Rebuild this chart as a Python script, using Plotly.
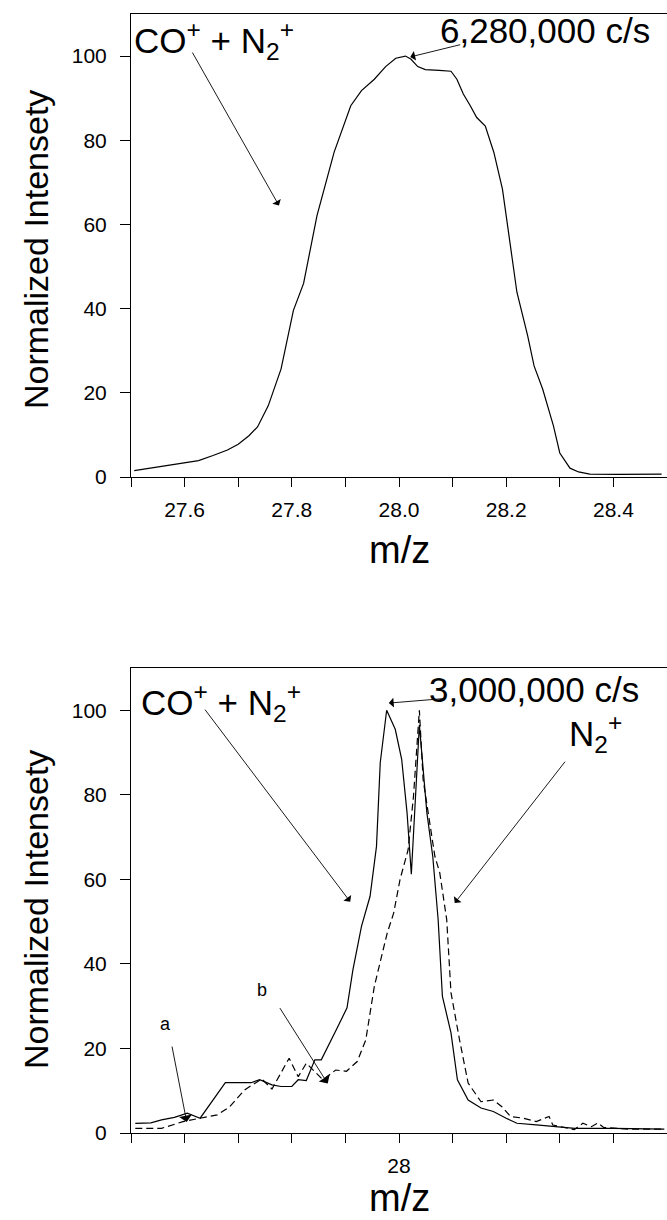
import plotly.graph_objects as go

# ---------------- data ----------------
top_mz = [27.506, 27.55, 27.581, 27.626, 27.653, 27.68, 27.70, 27.72, 27.736, 27.756,
          27.78, 27.803, 27.822, 27.847, 27.879, 27.910, 27.930, 27.954, 27.975, 27.994,
          28.012, 28.022, 28.035, 28.049, 28.075, 28.097, 28.108, 28.120, 28.133, 28.145,
          28.161, 28.177, 28.193, 28.204, 28.220, 28.240, 28.252, 28.268, 28.288, 28.300,
          28.319, 28.335, 28.356, 28.41, 28.45, 28.49]
top_int = [1.5, 2.4, 3.1, 3.9, 5.1, 6.4, 7.8, 9.8, 11.9, 16.9,
           25.7, 39.6, 46.0, 62.1, 77.2, 88.2, 91.8, 94.5, 97.5, 99.5,
           100.0, 99.3, 97.5, 96.8, 96.6, 96.4, 94.5, 91.0, 88.2, 85.4,
           83.4, 77.1, 68.4, 58.2, 43.9, 33.6, 26.4, 20.9, 12.2, 5.7,
           2.1, 1.2, 0.7, 0.6, 0.6, 0.7]

bot_mz_solid = [27.508, 27.537, 27.557, 27.581, 27.605, 27.621, 27.629, 27.676, 27.724, 27.740,
                27.763, 27.780, 27.800, 27.812, 27.827, 27.843, 27.855, 27.883, 27.903, 27.914,
                27.930, 27.946, 27.958, 27.965, 27.977, 27.993, 28.005, 28.015, 28.021, 28.023,
                28.038, 28.052, 28.063, 28.073, 28.081, 28.097, 28.109, 28.129, 28.153, 28.176,
                28.200, 28.220, 28.256, 28.288, 28.328, 28.400, 28.495]
bot_int_solid = [2.3, 2.4, 3.1, 3.7, 4.7, 4.0, 3.5, 11.9, 11.9, 12.6,
                 11.4, 11.0, 11.0, 12.6, 12.4, 17.3, 17.3, 24.4, 29.6, 38.6,
                 48.9, 56.0, 67.8, 87.6, 100.0, 95.5, 88.4, 75.8, 66.4, 61.2,
                 96.5, 75.8, 65.4, 50.5, 32.3, 23.7, 12.6, 7.8, 5.9, 5.1,
                 3.5, 2.3, 1.9, 1.5, 1.1, 1.1, 0.9]

bot_mz_dash = [27.508, 27.557, 27.597, 27.629, 27.661, 27.684, 27.712, 27.744, 27.763, 27.795,
               27.812, 27.827, 27.858, 27.882, 27.902, 27.922, 27.938, 27.954, 27.978, 27.990,
               28.002, 28.017, 28.027, 28.038, 28.045, 28.067, 28.076, 28.089, 28.097, 28.113,
               28.129, 28.153, 28.176, 28.192, 28.208, 28.232, 28.256, 28.280, 28.287, 28.327,
               28.343, 28.359, 28.371, 28.382, 28.431, 28.494]
bot_int_dash = [1.1, 1.1, 2.7, 3.5, 4.3, 6.2, 10.2, 12.8, 10.4, 17.7,
                13.3, 16.5, 12.6, 14.9, 14.6, 16.9, 22.0, 34.7, 47.3, 52.0,
                60.0, 67.0, 79.6, 100.0, 83.6, 65.4, 61.6, 50.5, 33.2, 22.0,
                11.8, 7.4, 7.8, 6.2, 3.9, 3.5, 2.7, 3.9, 1.9, 0.8,
                2.3, 1.5, 2.4, 1.3, 0.9, 0.9]

top_xticks = [27.6, 27.8, 28.0, 28.2, 28.4]
top_xticktext = ["27.6", "27.8", "28.0", "28.2", "28.4"]
bot_xticks = [28.0]
bot_xticktext = ["28"]
y_ticks = [0, 20, 40, 60, 80, 100]

x_label = "m/z"
y_label = "Normalized Intensety"
label_co = "CO<sup>+</sup> + N<sub>2</sub><sup>+</sup>"
label_n2 = "N<sub>2</sub><sup>+</sup>"
label_top_counts = "6,280,000 c/s"
label_bot_counts = "3,000,000 c/s"

# ---------------- figure ----------------
FONT = "Liberation Sans, Arial, sans-serif"
W, H = 667, 1220
L, R, T, B = 131, 0, 14, 87
plot_h = H - T - B

def py2paper(py):
    return (H - B - py) / plot_h

def px2paper(px):
    return (px - L) / (W - L - R)

fig = go.Figure()
fig.add_trace(go.Scatter(x=top_mz, y=top_int, mode="lines",
                         line=dict(color="black", width=1.2), xaxis="x", yaxis="y",
                         showlegend=False))
fig.add_trace(go.Scatter(x=bot_mz_solid, y=bot_int_solid, mode="lines",
                         line=dict(color="black", width=1.2), xaxis="x2", yaxis="y2",
                         showlegend=False))
fig.add_trace(go.Scatter(x=bot_mz_dash, y=bot_int_dash, mode="lines",
                         line=dict(color="black", width=1.2, dash="7px,4px"),
                         xaxis="x2", yaxis="y2", showlegend=False))

axis_common = dict(showline=True, linecolor="black", linewidth=1, mirror=True,
                   showgrid=False, zeroline=False, ticks="outside", tickcolor="black",
                   tickwidth=1, tickfont=dict(family=FONT, size=21, color="black"))
minor_x = dict(ticks="outside", dtick=0.1, tick0=27.5, ticklen=9, tickcolor="black",
               showgrid=False)

top_dom = [py2paper(477), 1.0]
bot_dom = [0.0, py2paper(668)]

fig.update_layout(
    width=W, height=H,
    margin=dict(l=L, r=R, t=T, b=B),
    paper_bgcolor="white", plot_bgcolor="white",
    xaxis=dict(domain=[0, 1], anchor="y", range=[27.5, 28.5],
               tickvals=top_xticks, ticktext=top_xticktext, ticklen=9,
               ticklabelstandoff=5, minor=minor_x, **axis_common),
    yaxis=dict(domain=top_dom, anchor="x", range=[0, 110], tickvals=y_ticks,
               ticklen=10, ticklabelstandoff=9, **axis_common),
    xaxis2=dict(domain=[0, 1], anchor="y2", range=[27.5, 28.5],
                tickvals=bot_xticks, ticktext=bot_xticktext, ticklen=9,
                ticklabelstandoff=5, minor=minor_x, **axis_common),
    yaxis2=dict(domain=bot_dom, anchor="x2", range=[0, 110], tickvals=y_ticks,
                ticklen=10, ticklabelstandoff=9, **axis_common),
)

ann = []
big = dict(family=FONT, size=35, color="black")
# axis titles
for cy in (250, 910):
    ann.append(dict(text=y_label, xref="paper", yref="paper", x=px2paper(36), y=py2paper(cy),
                    showarrow=False, textangle=-90, font=dict(family=FONT, size=34, color="black"),
                    xanchor="center", yanchor="middle"))
for cy in (550, 1198):
    ann.append(dict(text=x_label, xref="paper", yref="paper", x=px2paper(399), y=py2paper(cy),
                    showarrow=False, font=dict(family=FONT, size=38, color="black"),
                    xanchor="center", yanchor="middle"))

# top labels
ann.append(dict(text=label_co, xref="x", yref="y", x=27.501, y=103.8, showarrow=False,
                xanchor="left", yanchor="middle", font=big))
ann.append(dict(text=label_top_counts, xref="x", yref="y", x=28.272, y=106.0, showarrow=False,
                xanchor="center", yanchor="middle", font=big))
# bottom labels
ann.append(dict(text=label_co, xref="x2", yref="y2", x=27.515, y=101.8, showarrow=False,
                xanchor="left", yanchor="middle", font=big))
ann.append(dict(text=label_bot_counts, xref="x2", yref="y2", x=28.252, y=105.0, showarrow=False,
                xanchor="center", yanchor="middle", font=big))
ann.append(dict(text=label_n2, xref="x2", yref="y2", x=28.366, y=94.5, showarrow=False,
                xanchor="center", yanchor="middle", font=big))
small = dict(family=FONT, size=18, color="black")
ann.append(dict(text="a", xref="x2", yref="y2", x=27.565, y=25.8, showarrow=False, font=small))
ann.append(dict(text="b", xref="x2", yref="y2", x=27.745, y=33.8, showarrow=False, font=small))

# arrows: (xref, yref, head x, head y, tail x, tail y, size)
arrows = [
    ("x", "y", 27.776, 64.5, 27.613, 101.2, 1.8),
    ("x", "y", 28.021, 99.8, 28.117, 102.8, 1.8),
    ("x2", "y2", 27.909, 54.7, 27.636, 100.5, 1.8),
    ("x2", "y2", 27.981, 101.7, 28.087, 102.8, 1.8),
    ("x2", "y2", 28.104, 54.4, 28.312, 88.2, 1.8),
    ("x2", "y2", 27.604, 2.6, 27.576, 20.8, 2.4),
    ("x2", "y2", 27.867, 11.7, 27.776, 29.9, 2.4),
]
for xr, yr, hx, hy, tx, ty, sz in arrows:
    ann.append(dict(text="", xref=xr, yref=yr, axref=xr, ayref=yr, x=hx, y=hy, ax=tx, ay=ty,
                    showarrow=True, arrowhead=1, arrowsize=sz, arrowwidth=0.9,
                    arrowcolor="black", standoff=0, startstandoff=0))

fig.update_layout(annotations=ann)
fig.write_html("out.html")
